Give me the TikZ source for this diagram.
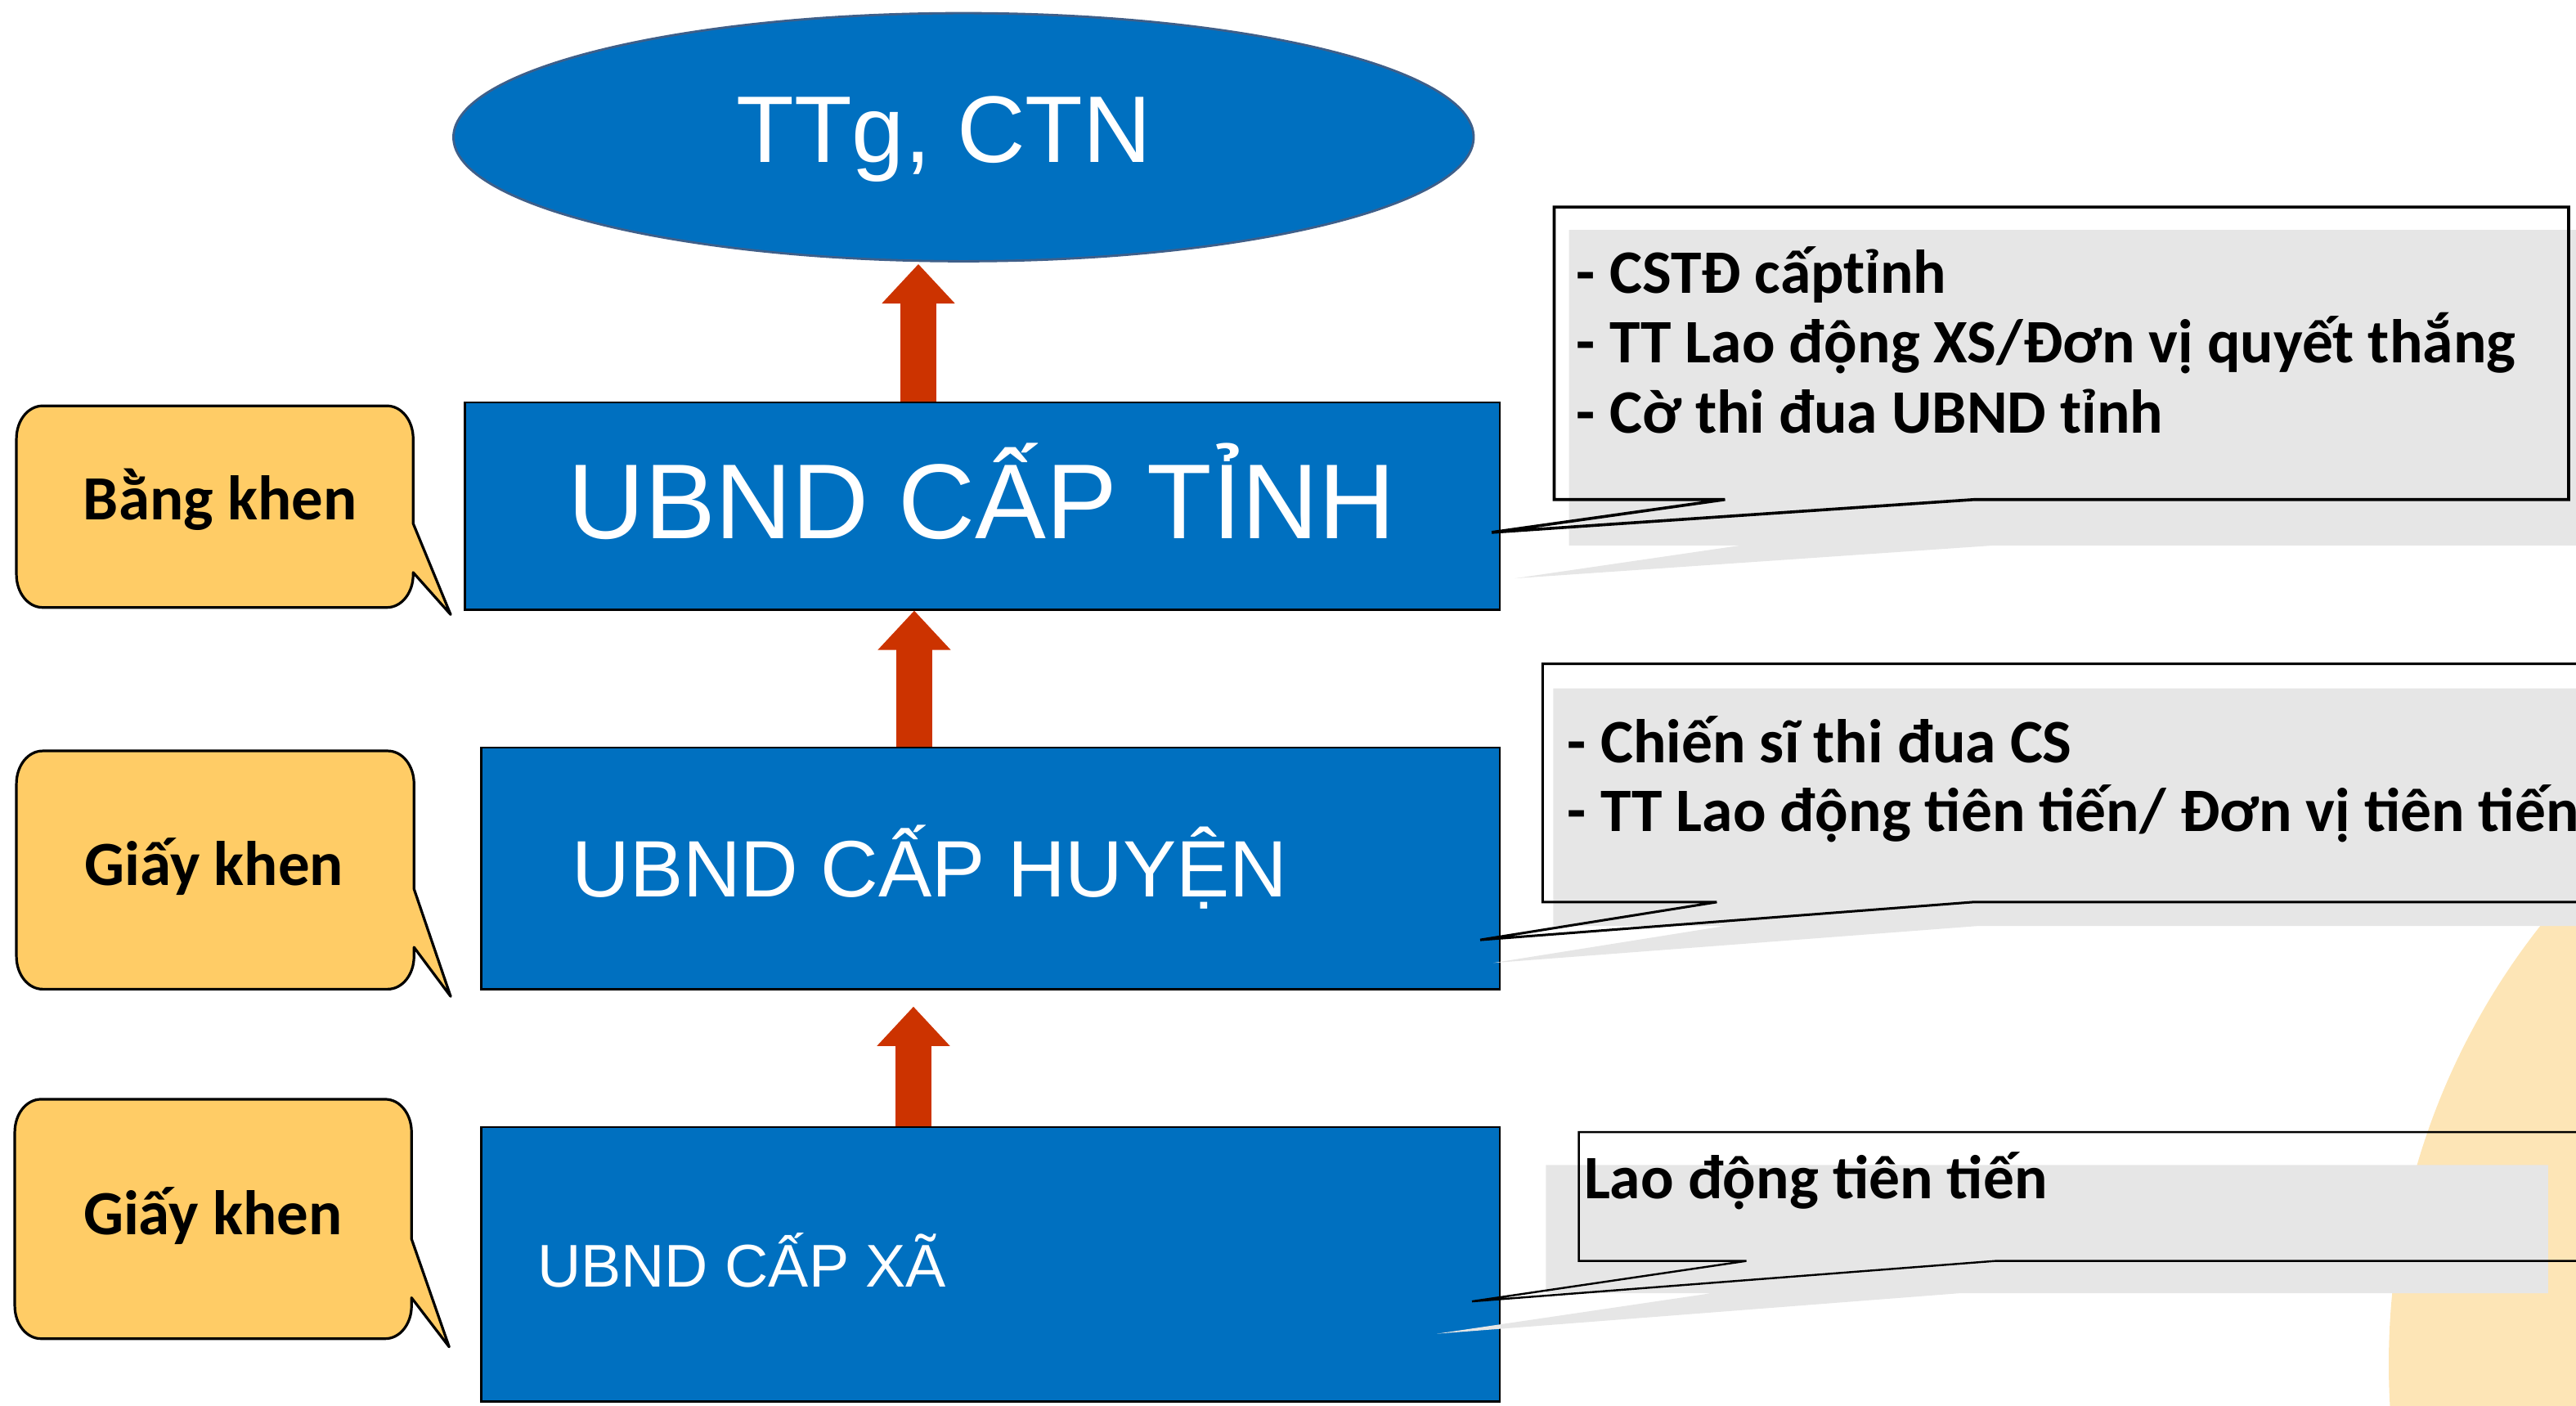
\documentclass[tikz,border=0pt]{standalone}
\usepackage{fontspec}
\setmainfont{Liberation Sans}
\newfontfamily\calib{Carlito}
\usetikzlibrary{shapes.geometric,arrows.meta}
\definecolor{ublue}{HTML}{0070C0}
\definecolor{arrred}{HTML}{CC3300}
\definecolor{ylw}{HTML}{FFCC66}
\definecolor{shad}{HTML}{E6E6E6}
\definecolor{peach}{HTML}{FDE5B6}
\definecolor{ellborder}{HTML}{3E5F8A}
\newcommand\ycallout[8]{%
  \draw[ycall] (#1,{#2+20}) .. controls (#1,{#2+9}) and ({#1+7},#2) .. ({#1+16},#2)
    -- ({#3-16},#2) .. controls ({#3-7},#2) and (#3,{#2+9}) .. (#3,{#2+20})
    -- (#3,#5) -- (#7,#8) -- (#3,#6)
    -- (#3,{#4-20}) .. controls (#3,{#4-9}) and ({#3-7},#4) .. ({#3-16},#4)
    -- ({#1+16},#4) .. controls ({#1+7},#4) and (#1,{#4-9}) .. (#1,{#4-20}) -- cycle;}
\begin{document}
\begin{tikzpicture}[x=1pt,y=-1pt,
  ubox/.style={draw=black, line width=1.2pt, fill=ublue, inner sep=0},
  wtext/.style={text=white, inner sep=0},
  btext/.style={font=\calib\bfseries\fontsize{37.6}{42.6}\selectfont, inner sep=0, text=black},
  ltext/.style={font=\calib\bfseries\fontsize{38.3}{42.6}\selectfont, inner sep=0, text=black},
  ycall/.style={draw=black, line width=1.6pt, fill=ylw, line join=round},
  rcall/.style={draw=black, line width=1.6pt, line join=miter},
  redarrow/.style={draw=arrred, line width=22pt, -{Triangle[width=43pt,length=24pt]}}]
\useasboundingbox (0,0) rectangle (1568,855.2);
% background circle
\fill[peach] (1885,830) circle[radius=431];
% top ellipse
\node[ellipse, draw=ellborder, line width=1.4pt, fill=ublue, minimum width=621pt, minimum height=151pt, inner sep=0] (ell) at (586.5,83.5) {};
\node[wtext, anchor=base west, font=\fontsize{57.6}{62}\selectfont] (ellt) at (448,99) {TTg, CTN};
% boxes
\node[ubox, minimum width=630pt, minimum height=126pt] (tinh) at (598,308) {};
\node[ubox, minimum width=620pt, minimum height=147pt] (huyen) at (603,528.5) {};
\node[ubox, minimum width=620pt, minimum height=167pt] (xa) at (603,769.5) {};
\node[wtext, anchor=base, font=\fontsize{64.8}{68}\selectfont] (tinht) at (597.5,328) {UBND CẤP TỈNH};
\node[wtext, anchor=base, font=\fontsize{48.7}{52}\selectfont] (huyent) at (566,546) {UBND CẤP HUYỆN};
\node[wtext, anchor=base west, font=\fontsize{36.7}{40}\selectfont] (xat) at (327,783) {UBND CẤP XÃ};
% arrows
\coordinate (a1x) at (559,0);
\coordinate (a2x) at (556.5,0);
\coordinate (a3x) at (556,0);
\draw[redarrow] (tinh.north -| a1x) -- ([yshift=-1pt]ell.south -| a1x);
\draw[redarrow] (huyen.north -| a2x) -- (tinh.south -| a2x);
\draw[redarrow] (xa.north -| a3x) -- ([yshift=-10pt]huyen.south -| a3x);
% left callouts
\ycallout{10}{247}{251.5}{369.7}{318.6}{348.4}{274.3}{374}
\ycallout{10}{457}{252}{602}{541}{576.5}{274.3}{606.4}
\ycallout{9}{669}{250.5}{814.7}{754}{789.8}{273.4}{819.7}
\node[ltext, anchor=base] (bk) at (134,316.4) {Bằng khen};
\node[ltext, anchor=base] (gk1) at (130.3,539) {Giấy khen};
\node[ltext, anchor=base] (gk2) at (129.6,751.6) {Giấy khen};
% right callouts: shadows
\fill[shad] (955,140) -- (1580,140) -- (1580,332) -- (1213,332) -- (922,352) -- (1059,332) -- (955,332) -- cycle;
\fill[shad] (945.5,419) -- (1580,419) -- (1580,563.5) -- (1204.5,563.5) -- (909,586) -- (1050,563.5) -- (945.5,563.5) -- cycle;
\fill[shad] (941,709) -- (1551,709) -- (1551,787) -- (1193.5,787) -- (874.6,811.7) -- (1042,787) -- (941,787) -- cycle;
% right callouts: outlines
\draw[rcall, line width=1.8pt] (946,126) -- (1563.5,126) -- (1563.5,304) -- (1202,304) -- (908,324) -- (1050,304) -- (946,304) -- cycle;
\draw[rcall, line width=1.5pt] (939,404) -- (1580,404) -- (1580,549) -- (1201,549) -- (901,572) -- (1045,549) -- (939,549) -- cycle;
\draw[rcall, line width=1.2pt] (961,689) -- (1580,689) -- (1580,767.4) -- (1214.5,767.4) -- (896,792) -- (1063,767.4) -- (961,767.4) -- cycle;
% right texts
\node[btext, anchor=base west] (r1a) at (959.5,178.3) {- CSTĐ cấptỉnh};
\node[btext, anchor=base west] (r1b) at (959.5,221) {- TT Lao động XS/Đơn vị quyết thắng};
\node[btext, anchor=base west] (r1c) at (959.5,263.5) {- Cờ thi đua UBND tỉnh};
\node[btext, anchor=base west] (r2a) at (954,464) {- Chiến sĩ thi đua CS};
\node[btext, anchor=base west] (r2b) at (954,506) {- TT Lao động tiên tiến/ Đơn vị tiên tiến};
\node[btext, anchor=base west] (r3a) at (964,729.7) {Lao động tiên tiến};
\end{tikzpicture}
\end{document}
